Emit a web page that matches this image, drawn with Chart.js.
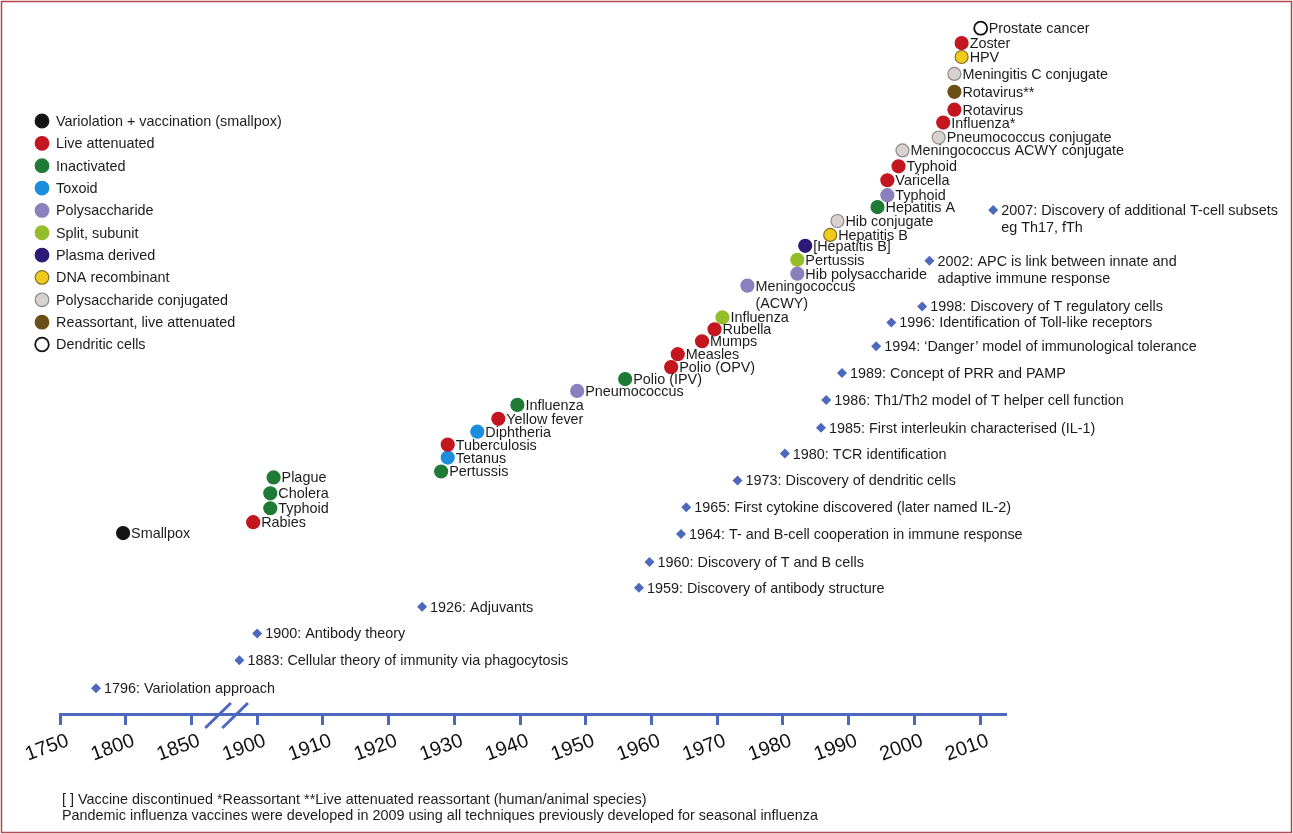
<!DOCTYPE html>
<html>
<head>
<meta charset="utf-8">
<script src="https://cdn.jsdelivr.net/npm/chart.js@4.4.0/dist/chart.umd.min.js"></script>
<style>
  html, body { margin: 0; padding: 0; background: #fff; }
</style>
</head>
<body>
<canvas id="timeline" width="1293" height="834"></canvas>
<script>
// Vaccine types (legend order)
const categories = [
  'Variolation + vaccination (smallpox)',
  'Live attenuated',
  'Inactivated',
  'Toxoid',
  'Polysaccharide',
  'Split, subunit',
  'Plasma derived',
  'DNA recombinant',
  'Polysaccharide conjugated',
  'Reassortant, live attenuated',
  'Dendritic cells'
];

// Vaccines: name, year as placed on the timeline, height above axis, type index
const vaccineNames = [
  'Smallpox', 'Rabies', 'Typhoid', 'Cholera', 'Plague',
  'Pertussis', 'Tetanus', 'Tuberculosis', 'Diphtheria', 'Yellow fever',
  'Influenza', 'Pneumococcus', 'Polio (IPV)', 'Polio (OPV)', 'Measles',
  'Mumps', 'Rubella', 'Influenza', 'Meningococcus\n(ACWY)', 'Hib polysaccharide',
  'Pertussis', '[Hepatitis B]', 'Hepatitis B', 'Hib conjugate', 'Hepatitis A',
  'Typhoid', 'Varicella', 'Typhoid', 'Meningococcus ACWY conjugate', 'Pneumococcus conjugate',
  'Influenza*', 'Rotavirus', 'Rotavirus**', 'Meningitis C conjugate', 'HPV',
  'Zoster', 'Prostate cancer'
];
const vaccineYears = [
  1798, 1897, 1902, 1902, 1902.5,
  1928, 1929, 1929, 1933.5, 1936.7,
  1939.6, 1948.7, 1956, 1963, 1964,
  1967.7, 1969.6, 1970.8, 1974.6, 1982.2,
  1982.2, 1983.4, 1987.2, 1988.3, 1994.4,
  1995.9, 1995.9, 1997.6, 1998.2, 2003.7,
  2004.4, 2006.1, 2006.1, 2006.1, 2007.2,
  2007.2, 2010.1
];
const vaccineLevels = [
  182, 193, 207, 222, 238,
  244, 258, 271, 284, 297,
  311, 325, 337, 349, 362,
  375, 387, 399, 431, 443,
  457, 471, 482, 496, 510,
  522, 537, 551, 567, 580,
  595, 608, 626, 644, 661,
  675, 690
];
const vaccineTypes = [
  0, 1, 2, 2, 2,
  2, 3, 1, 3, 1,
  2, 4, 2, 1, 1,
  1, 1, 5, 4, 4,
  5, 6, 7, 8, 2,
  4, 1, 1, 8, 8,
  1, 1, 9, 8, 7,
  1, 10
];

// Immunology discoveries
const discoveryNames = [
  '1796: Variolation approach',
  '1883: Cellular theory of immunity via phagocytosis',
  '1900: Antibody theory',
  '1926: Adjuvants',
  '1959: Discovery of antibody structure',
  '1960: Discovery of T and B cells',
  '1964: T- and B-cell cooperation in immune response',
  '1965: First cytokine discovered (later named IL-2)',
  '1973: Discovery of dendritic cells',
  '1980: TCR identification',
  '1985: First interleukin characterised (IL-1)',
  '1986: Th1/Th2 model of T helper cell function',
  '1989: Concept of PRR and PAMP',
  '1994: \u2018Danger\u2019 model of immunological tolerance',
  '1996: Identification of Toll-like receptors',
  '1998: Discovery of T regulatory cells',
  '2002: APC is link between innate and\nadaptive immune response',
  '2007: Discovery of additional T-cell subsets\neg Th17, fTh'
];
const discoveryYears = [
  1777.4, 1886.5, 1900, 1925.1, 1958.1, 1959.7, 1964.5, 1965.3, 1973.1,
  1980.3, 1985.8, 1986.6, 1989, 1994.2, 1996.5, 2001.2, 2002.3, 2012
];
const discoveryLevels = [
  26, 54, 81, 108, 127, 153, 181, 208, 235,
  262, 288, 316, 343, 370, 394, 410, 456, 507
];

// Axis tick labels (broken axis: 50-year steps, then 10-year steps)
const tickLabels = ['1750', '1800', '1850', '1900', '1910', '1920', '1930', '1940',
  '1950', '1960', '1970', '1980', '1990', '2000', '2010'];

const typeColors = ['#141414', '#c3161f', '#1f7a35', '#1a8ddc', '#8a80bd', '#94bd2a',
  '#2b1a78', '#f1cb1b', '#d9d0d1', '#6c4e17', '#ffffff'];
const typeBorders = ['#141414', '#c3161f', '#1f7a35', '#1a8ddc', '#8a80bd', '#94bd2a',
  '#2b1a78', '#857327', '#8e8789', '#6c4e17', '#111111'];
const axisBlue = '#4d69bd';
const textColor = '#1c1c1c';
const fontFamily = '"Liberation Sans", Arial, Helvetica, sans-serif';
const labelFont = '14.4px ' + fontFamily;

// year -> axis slot (one slot per tick)
function yearToSlot(year) {
  if (year <= 1900) return (year - 1750) / 50;
  return 3 + (year - 1900) / 10;
}

const datasets = categories.map((cat, t) => {
  const idx = vaccineTypes.map((v, i) => v === t ? i : -1).filter(i => i >= 0);
  return {
    label: cat,
    data: idx.map(i => ({ x: yearToSlot(vaccineYears[i]), y: vaccineLevels[i] })),
    names: idx.map(i => vaccineNames[i]),
    pointStyle: 'circle',
    pointRadius: 6.5,
    backgroundColor: typeColors[t],
    borderColor: typeBorders[t],
    borderWidth: t === 10 ? 1.8 : 1.2,
    labelGap: 8,
    showLine: false
  };
});
datasets.push({
  label: 'Discoveries',
  data: discoveryYears.map((y, i) => ({ x: yearToSlot(y), y: discoveryLevels[i] })),
  names: discoveryNames,
  pointStyle: 'rectRot',
  pointRadius: 5,
  backgroundColor: axisBlue,
  borderColor: axisBlue,
  borderWidth: 0,
  labelGap: 8,
  showLine: false
});

const pointLabels = {
  id: 'pointLabels',
  afterDatasetsDraw(chart) {
    const ctx = chart.ctx;
    ctx.save();
    ctx.font = labelFont;
    ctx.fillStyle = textColor;
    ctx.textBaseline = 'middle';
    ctx.textAlign = 'left';
    chart.data.datasets.forEach((ds, di) => {
      chart.getDatasetMeta(di).data.forEach((pt, i) => {
        ds.names[i].split('\n').forEach((line, k) => {
          ctx.fillText(line, pt.x + ds.labelGap, pt.y + 1 + k * 17);
        });
      });
    });
    ctx.restore();
  }
};

const decorations = {
  id: 'decorations',
  beforeDraw(chart) {
    const ctx = chart.ctx;
    ctx.save();
    ctx.fillStyle = '#fff';
    ctx.fillRect(0, 0, chart.width, chart.height);
    ctx.restore();
  },
  afterDraw(chart) {
    const ctx = chart.ctx;
    const xs = chart.scales.x;
    const yAxis = chart.chartArea.bottom;
    ctx.save();
    // frame
    ctx.strokeStyle = '#b4454b';
    ctx.lineWidth = 1.5;
    ctx.strokeRect(1.5, 1.5, chart.width - 3, chart.height - 3);

    // axis break marks
    ctx.strokeStyle = axisBlue;
    ctx.lineWidth = 3;
    [[2.21, 2.60], [2.47, 2.86]].forEach(([a, b]) => {
      ctx.beginPath();
      ctx.moveTo(xs.getPixelForValue(a), yAxis + 14);
      ctx.lineTo(xs.getPixelForValue(b), yAxis - 11);
      ctx.stroke();
    });

    // legend
    ctx.font = labelFont;
    ctx.textBaseline = 'middle';
    ctx.textAlign = 'left';
    categories.forEach((cat, t) => {
      const y = 121 + t * 22.35;
      ctx.beginPath();
      ctx.arc(42, y, 6.8, 0, Math.PI * 2);
      ctx.fillStyle = typeColors[t];
      ctx.fill();
      ctx.lineWidth = t === 10 ? 1.8 : 1.2;
      ctx.strokeStyle = typeBorders[t];
      ctx.stroke();
      ctx.fillStyle = textColor;
      ctx.fillText(cat, 56, y + 1);
    });

    // footnotes
    ctx.font = labelFont;
    ctx.fillText('[ ] Vaccine discontinued *Reassortant **Live attenuated reassortant (human/animal species)', 62, 800);
    ctx.fillText('Pandemic influenza vaccines were developed in 2009 using all techniques previously developed for seasonal influenza', 62, 816);
    ctx.restore();
  }
};

new Chart(document.getElementById('timeline').getContext('2d'), {
  type: 'scatter',
  data: { datasets: datasets },
  options: {
    responsive: false,
    animation: false,
    events: [],
    layout: { padding: { left: 60, right: 288, top: 4, bottom: 0 } },
    plugins: {
      legend: { display: false },
      tooltip: { enabled: false }
    },
    scales: {
      x: {
        type: 'linear',
        min: 0,
        max: 14.38,
        afterBuildTicks: s => { s.ticks = tickLabels.map((t, i) => ({ value: i })); },
        afterFit: s => { s.height = 120; },
        grid: { drawOnChartArea: false, drawTicks: true, tickLength: 11, color: axisBlue, lineWidth: 3 },
        border: { display: true, color: axisBlue, width: 3 },
        ticks: {
          callback: v => tickLabels[Math.round(v)],
          autoSkip: false,
          minRotation: 20,
          maxRotation: 20,
          padding: 4,
          labelOffset: 8,
          color: '#111',
          font: { size: 20, family: fontFamily }
        }
      },
      y: { display: false, min: 0, max: 710 }
    }
  },
  plugins: [pointLabels, decorations]
});
</script>
</body>
</html>
